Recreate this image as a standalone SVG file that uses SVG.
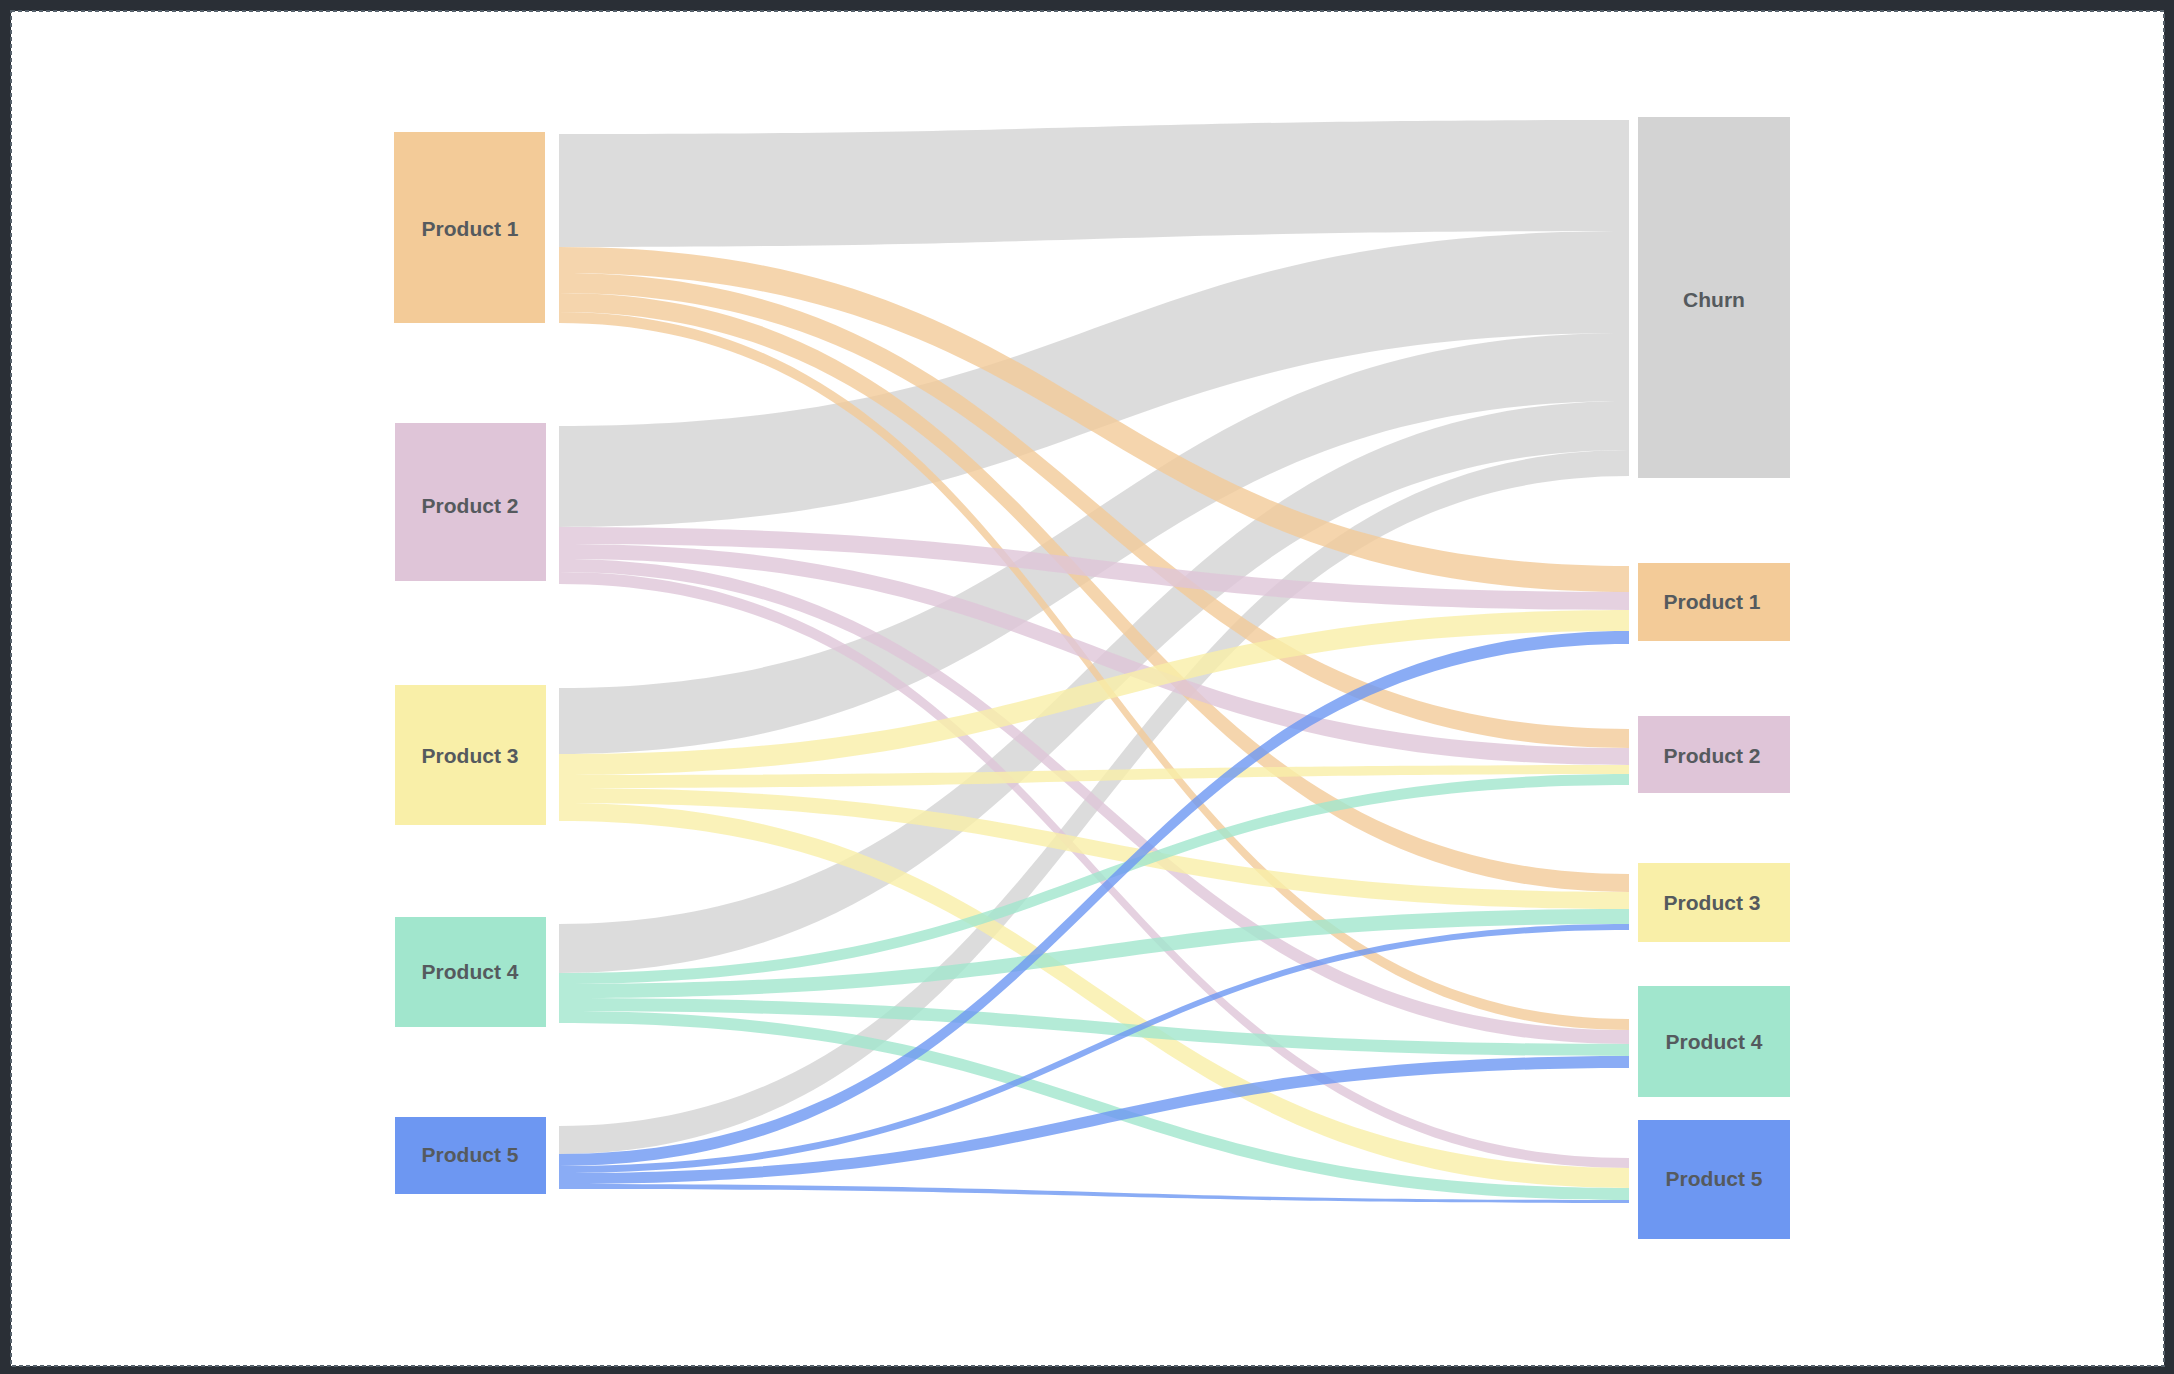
<svg xmlns="http://www.w3.org/2000/svg" width="2174" height="1374" viewBox="0 0 2174 1374">
<style>
.lbl{font-family:"Liberation Sans",Arial,sans-serif;font-size:21px;font-weight:bold;fill:#555a5e;text-anchor:middle;dominant-baseline:central}
.l{opacity:0.8}
.c0{fill:#d3d3d3}.c1{fill:#f3cb98}.c2{fill:#dfc5d8}.c3{fill:#f9efa8}.c4{fill:#a1e6cd}.c5{fill:#6d97f2}
</style>
<rect x="0" y="0" width="2174" height="1374" fill="#2a2f36"/>
<rect x="11" y="11" width="2153" height="1355" fill="#ffffff" stroke="#55606a" stroke-width="2" stroke-dasharray="4 3"/>
<g id="connectors">
<path class="l c0" d="M559,134 C1094,134 1094,120 1629,120 L1629,231 C1094,231 1094,247 559,247 Z"/>
<path class="l c0" d="M559,426 C1094,426 1094,231 1629,231 L1629,333 C1094,333 1094,527 559,527 Z"/>
<path class="l c0" d="M559,688 C1094,688 1094,333 1629,333 L1629,401 C1094,401 1094,754 559,754 Z"/>
<path class="l c0" d="M559,924 C1094,924 1094,401 1629,401 L1629,450 C1094,450 1094,973 559,973 Z"/>
<path class="l c0" d="M559,1126 C1094,1126 1094,450 1629,450 L1629,476 C1094,476 1094,1154 559,1154 Z"/>
<path class="l c1" d="M559,247 C1094,247 1094,566 1629,566 L1629,592 C1094,592 1094,273 559,273 Z"/>
<path class="l c1" d="M559,273 C1094,273 1094,729 1629,729 L1629,748 C1094,748 1094,293 559,293 Z"/>
<path class="l c1" d="M559,293 C1094,293 1094,874 1629,874 L1629,892 C1094,892 1094,312 559,312 Z"/>
<path class="l c1" d="M559,312 C1094,312 1094,1019 1629,1019 L1629,1030 C1094,1030 1094,323 559,323 Z"/>
<path class="l c2" d="M559,527 C1094,527 1094,592 1629,592 L1629,610 C1094,610 1094,544 559,544 Z"/>
<path class="l c2" d="M559,544 C1094,544 1094,748 1629,748 L1629,765 C1094,765 1094,559 559,559 Z"/>
<path class="l c2" d="M559,559 C1094,559 1094,1030 1629,1030 L1629,1044 C1094,1044 1094,572 559,572 Z"/>
<path class="l c2" d="M559,572 C1094,572 1094,1158 1629,1158 L1629,1168 C1094,1168 1094,584 559,584 Z"/>
<path class="l c3" d="M559,754 C1094,754 1094,610 1629,610 L1629,631 C1094,631 1094,775 559,775 Z"/>
<path class="l c3" d="M559,775 C1094,775 1094,765 1629,765 L1629,774 C1094,774 1094,788 559,788 Z"/>
<path class="l c3" d="M559,788 C1094,788 1094,892 1629,892 L1629,909 C1094,909 1094,803 559,803 Z"/>
<path class="l c3" d="M559,803 C1094,803 1094,1168 1629,1168 L1629,1188 C1094,1188 1094,821 559,821 Z"/>
<path class="l c4" d="M559,973 C1094,973 1094,774 1629,774 L1629,785 C1094,785 1094,984 559,984 Z"/>
<path class="l c4" d="M559,984 C1094,984 1094,909 1629,909 L1629,924 C1094,924 1094,998 559,998 Z"/>
<path class="l c4" d="M559,998 C1094,998 1094,1044 1629,1044 L1629,1056 C1094,1056 1094,1011 559,1011 Z"/>
<path class="l c4" d="M559,1011 C1094,1011 1094,1188 1629,1188 L1629,1200 C1094,1200 1094,1023 559,1023 Z"/>
<path class="l c5" d="M559,1154 C1094,1154 1094,631 1629,631 L1629,644 C1094,644 1094,1166 559,1166 Z"/>
<path class="l c5" d="M559,1166 C1094,1166 1094,924 1629,924 L1629,930 C1094,930 1094,1173 559,1173 Z"/>
<path class="l c5" d="M559,1173 C1094,1173 1094,1056 1629,1056 L1629,1068 C1094,1068 1094,1184 559,1184 Z"/>
<path class="l c5" d="M559,1184 C1094,1184 1094,1200 1629,1200 L1629,1203 C1094,1203 1094,1189 559,1189 Z"/>
</g>
<g id="src1"><rect class="c1" x="394" y="132" width="151" height="191"/><text class="lbl" x="470" y="228">Product 1</text></g>
<g id="src2"><rect class="c2" x="395" y="423" width="151" height="158"/><text class="lbl" x="470" y="505">Product 2</text></g>
<g id="src3"><rect class="c3" x="395" y="685" width="151" height="140"/><text class="lbl" x="470" y="755">Product 3</text></g>
<g id="src4"><rect class="c4" x="395" y="917" width="151" height="110"/><text class="lbl" x="470" y="971">Product 4</text></g>
<g id="src5"><rect class="c5" x="395" y="1117" width="151" height="77"/><text class="lbl" x="470" y="1154">Product 5</text></g>
<g id="churn"><rect class="c0" x="1638" y="117" width="152" height="361"/><text class="lbl" x="1714" y="299">Churn</text></g>
<g id="dst1"><rect class="c1" x="1638" y="563" width="152" height="78"/><text class="lbl" x="1712" y="601">Product 1</text></g>
<g id="dst2"><rect class="c2" x="1638" y="716" width="152" height="77"/><text class="lbl" x="1712" y="755">Product 2</text></g>
<g id="dst3"><rect class="c3" x="1638" y="863" width="152" height="79"/><text class="lbl" x="1712" y="902">Product 3</text></g>
<g id="dst4"><rect class="c4" x="1638" y="986" width="152" height="111"/><text class="lbl" x="1714" y="1041">Product 4</text></g>
<g id="dst5"><rect class="c5" x="1638" y="1120" width="152" height="119"/><text class="lbl" x="1714" y="1178">Product 5</text></g>
</svg>
